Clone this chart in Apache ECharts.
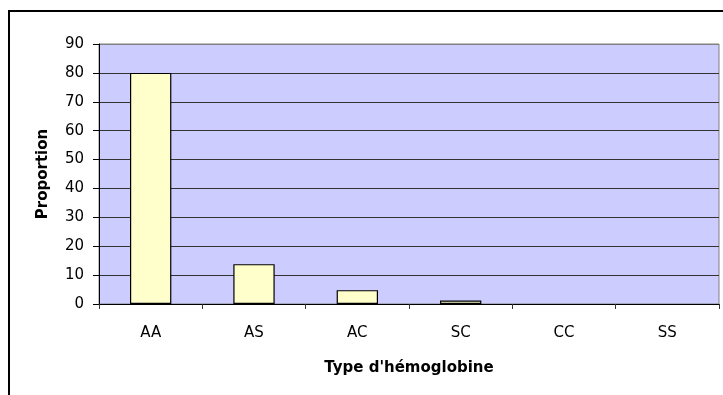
<!DOCTYPE html>
<html>
<head>
<meta charset="utf-8">
<script src="https://cdn.jsdelivr.net/npm/echarts@6/dist/echarts.min.js"></script>
<style>
  html, body { margin: 0; padding: 0; background: #ffffff; }
  #chart { width: 723px; height: 395px; }
</style>
</head>
<body>
<div id="chart"></div>
<script>
// Haemoglobin types and their share (%) in the sample
const categories = ['AA', 'AS', 'AC', 'SC', 'CC', 'SS'];
const proportions = [80, 13.8, 4.8, 1.2, 0, 0];
const yTicks = [0, 10, 20, 30, 40, 50, 60, 70, 80, 90];

const chart = echarts.init(document.getElementById('chart'));
const font = 'DejaVu Sans';

// Gridlines are dark except the top one, which blends into the plot frame
const splitColors = yTicks.map((v, i) => (i === yTicks.length - 1 ? '#808080' : '#333333'));

// Empty categories get no outline, so nothing shows for a zero share
const barData = proportions.map(v => (v === 0 ? { value: v, itemStyle: { borderWidth: 0 } } : v));

chart.setOption({
  animation: false,
  backgroundColor: '#ffffff',
  grid: {
    left: 99,
    right: 4,
    top: 44,
    bottom: 91,
    show: true,
    backgroundColor: '#ccccff',
    borderColor: '#808080',
    borderWidth: 1
  },
  graphic: [{
    type: 'rect',
    shape: { x: 9, y: 11, width: 730, height: 420 },
    style: { fill: 'none', stroke: '#000000', lineWidth: 2 },
    silent: true,
    z: 100
  }],
  xAxis: {
    type: 'category',
    data: categories,
    name: "Type d'hémoglobine",
    nameLocation: 'middle',
    nameGap: 57,
    nameTextStyle: { fontFamily: font, fontSize: 15, fontWeight: 'bold', color: '#000' },
    axisLine: { show: true, lineStyle: { color: '#000', width: 1 } },
    axisTick: { show: true, length: 5, lineStyle: { color: '#333' } },
    axisLabel: { margin: 22, fontFamily: font, fontSize: 15, color: '#000' },
    splitLine: { show: false }
  },
  yAxis: {
    type: 'value',
    min: yTicks[0],
    max: yTicks[yTicks.length - 1],
    interval: yTicks[1] - yTicks[0],
    name: 'Proportion',
    nameLocation: 'middle',
    nameGap: 48,
    nameTextStyle: { fontFamily: font, fontSize: 15, fontWeight: 'bold', color: '#000' },
    axisLine: { show: true, lineStyle: { color: '#000', width: 1 } },
    axisTick: { show: true, length: 6, lineStyle: { color: '#000' } },
    axisLabel: { margin: 15, fontFamily: font, fontSize: 15, color: '#000' },
    splitLine: { show: true, lineStyle: { color: splitColors, width: 1 } }
  },
  series: [{
    type: 'bar',
    data: barData,
    barWidth: '40%',
    itemStyle: { color: '#ffffcc', borderColor: '#000000', borderWidth: 1.2 }
  }]
});
</script>
</body>
</html>
